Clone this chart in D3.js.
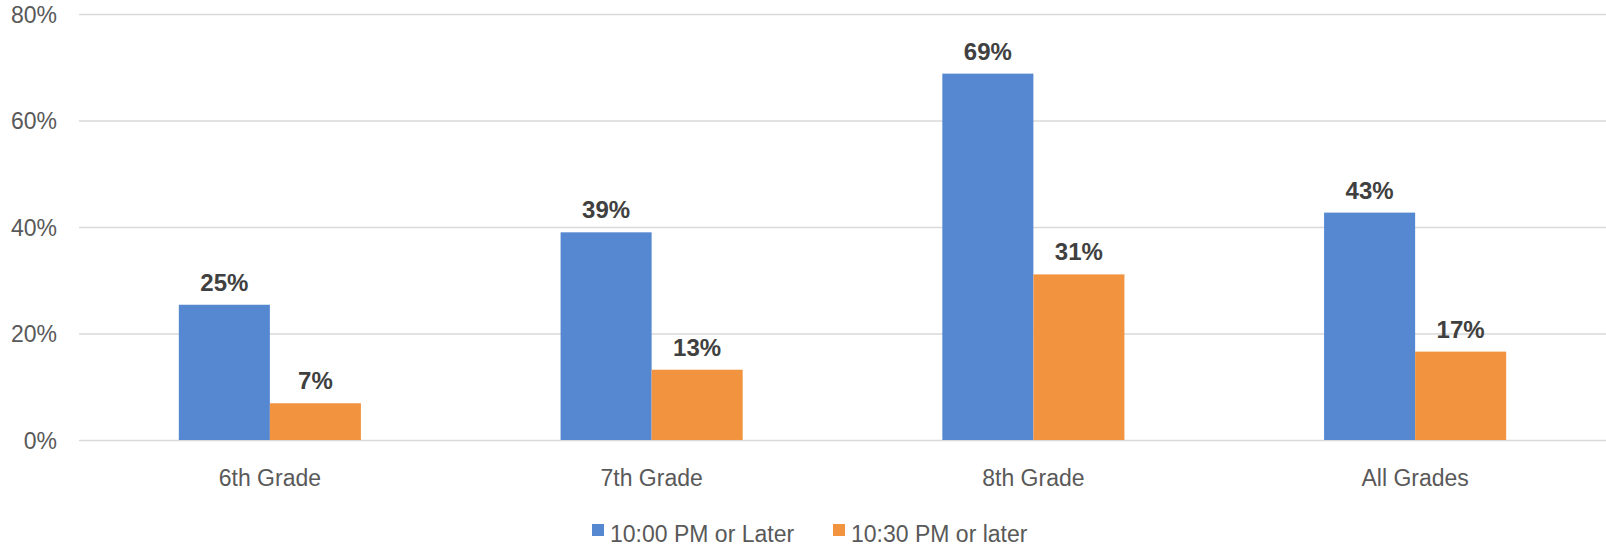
<!DOCTYPE html>
<html>
<head>
<meta charset="utf-8">
<script src="https://cdn.jsdelivr.net/npm/d3@7"></script>
<style>
  body { margin: 0; background: #fff; }
  svg { display: block; font-family: "Liberation Sans", Arial, sans-serif; }
</style>
</head>
<body>
<svg id="chart"></svg>
<script>
// data
const grades = ['6th Grade', '7th Grade', '8th Grade', 'All Grades'];
const seriesNames = ['10:00 PM or Later', '10:30 PM or later'];
const late1000 = [25.4, 39.0, 68.8, 42.7];
const late1030 = [6.9, 13.2, 31.1, 16.6];
const yTicks = [0, 20, 40, 60, 80];
const colors = ['#5588d1', '#f29340'];

const width = 1606, height = 547;
const margin = { top: 14, right: 0, bottom: 107, left: 79 };

const svg = d3.select('#chart').attr('width', width).attr('height', height);

const x0 = d3.scaleBand().domain(grades)
  .range([margin.left, width - margin.right])
  .paddingInner(0.523).paddingOuter(0.2615);
const x1 = d3.scaleBand().domain(seriesNames).range([0, x0.bandwidth()]);
const y = d3.scaleLinear().domain([0, 80]).range([height - margin.bottom, margin.top]);

// gridlines
svg.append('g')
  .selectAll('line')
  .data(yTicks)
  .join('line')
  .attr('x1', margin.left)
  .attr('x2', width - margin.right)
  .attr('y1', d => y(d) + 0.5)
  .attr('y2', d => y(d) + 0.5)
  .attr('stroke', '#d9d9d9')
  .attr('stroke-width', 1.3);

// y axis labels
const yAxis = svg.append('g')
  .attr('transform', `translate(${margin.left - 22},0)`)
  .call(d3.axisLeft(y).tickValues(yTicks).tickSize(0).tickPadding(0).tickFormat(d => d + '%'));
yAxis.select('.domain').remove();
yAxis.selectAll('text')
  .attr('font-size', 23)
  .attr('font-family', '"Liberation Sans", Arial, sans-serif')
  .attr('fill', '#595959')
  .attr('dy', '0.35em');

// bars
const rows = grades.map((g, i) => ({ grade: g, values: [late1000[i], late1030[i]] }));
const groups = svg.append('g')
  .selectAll('g')
  .data(rows)
  .join('g')
  .attr('transform', d => `translate(${x0(d.grade)},0)`);

const cells = groups.selectAll('g')
  .data(d => d.values.map((v, j) => ({ name: seriesNames[j], v, j })))
  .join('g');

cells.append('rect')
  .attr('x', d => x1(d.name))
  .attr('y', d => y(d.v))
  .attr('width', x1.bandwidth())
  .attr('height', d => y(0) - y(d.v))
  .attr('fill', d => colors[d.j]);

cells.append('text')
  .attr('x', d => x1(d.name) + x1.bandwidth() / 2)
  .attr('y', d => y(d.v) - 14)
  .attr('text-anchor', 'middle')
  .attr('font-size', 24)
  .attr('font-weight', 'bold')
  .attr('fill', '#404040')
  .text(d => Math.round(d.v) + '%');

// category axis
const xAxis = svg.append('g')
  .attr('transform', `translate(0,${y(0)})`)
  .call(d3.axisBottom(x0).tickSize(0).tickPadding(0));
xAxis.select('.domain').remove();
xAxis.selectAll('text')
  .attr('font-size', 23)
  .attr('font-family', '"Liberation Sans", Arial, sans-serif')
  .attr('fill', '#595959')
  .attr('dy', null)
  .attr('y', 46);

// legend
const legendX = [592, 833];
const legend = svg.append('g')
  .selectAll('g')
  .data(seriesNames)
  .join('g')
  .attr('transform', (d, i) => `translate(${legendX[i]},524)`);
legend.append('rect')
  .attr('width', 12).attr('height', 12)
  .attr('fill', (d, i) => colors[i]);
legend.append('text')
  .attr('x', 18).attr('y', 18)
  .attr('font-size', 23)
  .attr('fill', '#595959')
  .text(d => d);
</script>
</body>
</html>
